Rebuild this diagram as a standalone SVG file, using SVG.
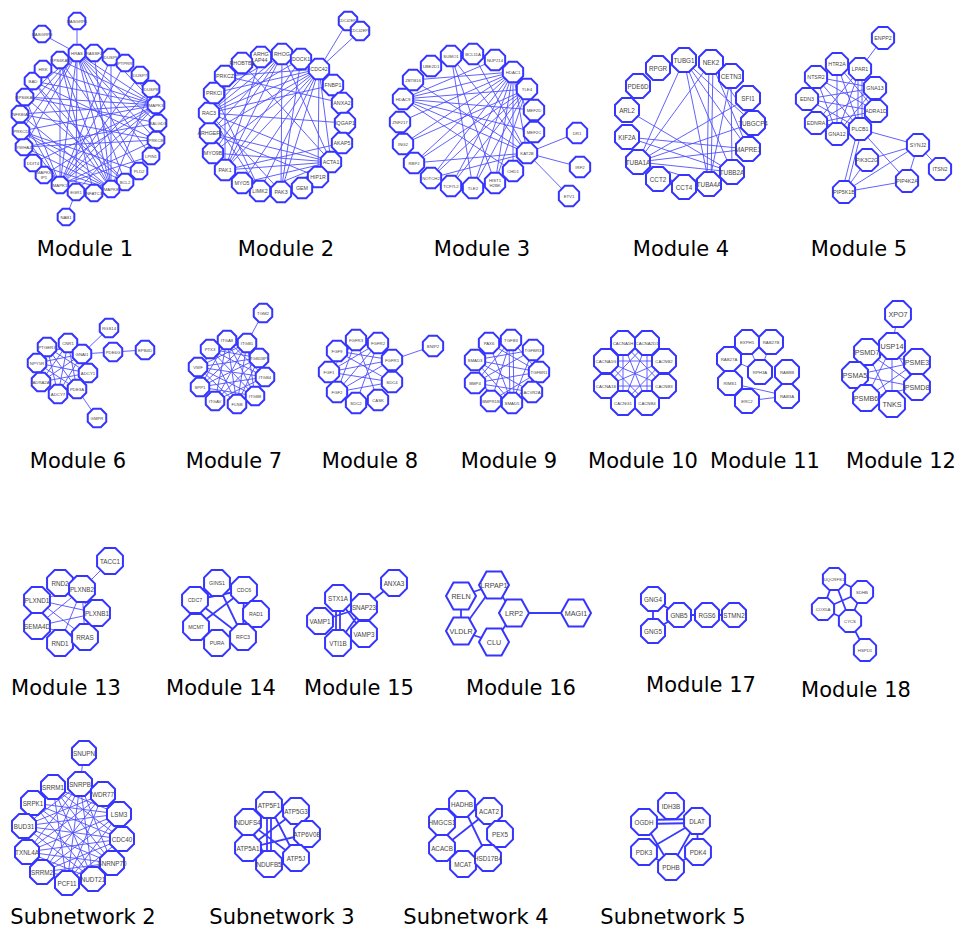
<svg xmlns="http://www.w3.org/2000/svg" xmlns:xlink="http://www.w3.org/1999/xlink" width="956" height="932" viewBox="0 0 956 932">
<style>
.o{fill:#fff;stroke:#3535ff;stroke-width:2}
.e{fill:none;stroke:#4f4fff;stroke-width:0.9}
.e2{fill:none;stroke:#3a3aff;stroke-width:1.8}
text.n,g.m text{font-family:"Liberation Sans",Arial,sans-serif;fill:#444;text-anchor:middle;dominant-baseline:central}
.s4{font-size:4.3px}.s5{font-size:5.3px}.s6{font-size:6.3px}.s7{font-size:7.2px}
.lbl{font-family:"DejaVu Sans",Verdana,sans-serif;font-size:21px;text-anchor:middle;fill:#000}
</style>
<defs>
<polygon id="o9" class="o" points="3.45,-8.32 8.32,-3.45 8.32,3.45 3.45,8.32 -3.45,8.32 -8.32,3.45 -8.32,-3.45 -3.45,-8.32"/>
<polygon id="o10" class="o" points="3.83,-9.24 9.24,-3.83 9.24,3.83 3.83,9.24 -3.83,9.24 -9.24,3.83 -9.24,-3.83 -3.83,-9.24"/>
<polygon id="o11" class="o" points="4.21,-10.16 10.16,-4.21 10.16,4.21 4.21,10.16 -4.21,10.16 -10.16,4.21 -10.16,-4.21 -4.21,-10.16"/>
<polygon id="o12" class="o" points="4.59,-11.09 11.09,-4.59 11.09,4.59 4.59,11.09 -4.59,11.09 -11.09,4.59 -11.09,-4.59 -4.59,-11.09"/>
<polygon id="o13" class="o" points="4.98,-12.01 12.01,-4.98 12.01,4.98 4.98,12.01 -4.98,12.01 -12.01,4.98 -12.01,-4.98 -4.98,-12.01"/>
<polygon id="o14" class="o" points="5.36,-12.94 12.94,-5.36 12.94,5.36 5.36,12.94 -5.36,12.94 -12.94,5.36 -12.94,-5.36 -5.36,-12.94"/>
<polygon id="h15" class="o" points="15,0 7.5,13.5 -7.5,13.5 -15,0 -7.5,-13.5 7.5,-13.5"/>
</defs>
<rect width="956" height="932" fill="#fff"/>

<g id="connectors">
<path class="e" d="M77 21L77 53M42 34L77 53M66 217L76 192M77 53L156 105M77 53L158 123M77 53L156 140M77 53L139 171M77 53L125 182M77 53L60 185M77 53L111 189M77 53L20 114M77 53L21 131M77 53L24 147M77 53L25 97M77 53L76 192M77 53L151 156M60 60L156 105M60 60L60 185M60 60L111 189M60 60L139 171M43 69L111 189M43 69L156 105M33 81L156 105M33 81L111 189M33 81L156 140M33 81L125 182M25 97L156 105M25 97L60 185M25 97L158 123M20 114L156 105M20 114L156 140M20 114L111 189M20 114L60 185M21 131L156 105M21 131L60 185M21 131L139 171M21 131L111 189M24 147L111 189M24 147L156 140M24 147L158 123M33 163L156 105M33 163L111 189M44 175L111 189M44 175L156 105M60 185L111 57M60 185L140 75M60 185L151 89M60 185L125 63M60 185L156 105M60 185L156 140M60 185L151 156M156 105L111 57M156 105L125 63M111 189L111 57M111 189L151 89M76 192L156 105M94 193L60 60M125 182L25 97M139 171L158 123M94 53L111 189M125 182L21 131"/>
<path class="e" d="M348 21L319 69M360 31L319 69M319 69L209 113M319 69L214 93M319 69L225 76M319 69L210 133M319 69L213 153M319 69L225 170M319 69L281 192M319 69L260 191M319 69L345 123M319 69L331 162M319 69L318 177M319 69L242 183M282 54L209 113M282 54L225 170M282 54L281 192M282 54L214 93M282 54L210 133M282 54L213 153M282 54L331 162M261 57L209 113M261 57L225 170M242 63L331 162M225 76L342 103M225 76L225 170M209 113L345 123M209 113L331 162M209 113L281 192M209 113L260 191M209 113L301 59M209 113L333 85M225 170L331 162M225 170L301 59M210 133L331 162M213 153L331 162M331 162L281 192M331 162L242 183M331 162L260 191M214 93L260 191M342 143L225 170M318 177L210 133M301 59L281 192"/>
<path class="e" d="M527 153L577 133M527 153L580 167M527 153L569 196M513 72L413 80M513 72L403 99M513 72L400 122M513 72L414 163M513 72L431 178M513 72L451 186M513 72L473 188M513 72L495 183M513 72L513 171M513 72L527 153M513 72L534 132M513 72L534 110M513 72L403 144M495 60L403 99M451 56L527 153M451 56L473 188M473 54L527 153M451 56L495 183M403 99L534 110M403 99L534 132M403 99L527 153M403 99L513 171M403 99L527 89M527 89L414 163M527 89L431 178M527 89L451 186M527 89L473 188M527 89L495 183M527 89L403 144M527 153L414 163M527 153L431 178M413 80L527 153"/>
<path class="e" d="M684 60L638 162M684 60L709 184M684 60L732 172M684 60L748 149M684 60L753 123M711 62L638 162M709 62L707 184M713 62L711 184M711 62L748 149M711 62L753 123M731 76L732 172M731 76L709 184M748 98L638 162M753 123L638 162M748 149L638 162M748 149L627 137M627 110L732 172M638 162L732 172M638 162L709 184M638 162L684 187M709 184L658 179M627 137L732 172"/>
<path class="e" d="M883 38L860 69M858 69L858 129M862 69L862 129M860 69L837 134M837 64L860 129M837 64L837 134M837 64L876 111M816 77L875 88M816 77L860 129M816 77L876 111M816 77L837 134M807 99L875 88M807 99L860 129M807 99L876 111M816 123L875 88M816 123L860 69M816 123L876 111M816 123L860 129M837 134L875 88M875 88L860 129M860 129L918 145M860 129L907 181M858 129L842 192M862 129L846 192M918 145L867 160M918 145L844 192M918 145L907 181M918 145L940 169M844 192L907 181M844 192L867 160"/>
<path class="e" d="M82 354L109 328M82 354L113 352M113 352L145 350M77 389L97 418M47 347L88 373M47 347L58 394M47 347L77 389M68 343L58 394M68 343L88 373M68 343L77 389M68 343L41 382M37 363L82 354M37 363L88 373M37 363L77 389M41 382L82 354M41 382L88 373M58 394L82 354M47 347L82 354M37 363L68 343M58 394L88 373"/>
<path class="e" d="M263 313L247 343M247 343L198 367M247 343L200 387M247 343L215 401M247 343L237 404M247 343L255 396M247 343L210 349M227 340L200 387M227 340L215 401M227 340L237 404M227 340L255 396M227 340L265 377M227 340L259 358M210 349L259 358M210 349L265 377M210 349L255 396M210 349L237 404M198 367L259 358M198 367L265 377M198 367L255 396M198 367L237 404M200 387L259 358M200 387L265 377M200 387L255 396M215 401L259 358M215 401L265 377M237 404L259 358M227 340L198 367"/>
<path class="e" d="M392 360L433 346M329 372L392 360M329 372L378 343M329 372L356 340M329 372L392 382M337 392L392 360M337 392L378 343M337 392L356 340M337 392L392 382M337 351L392 360M337 351L378 343M337 351L392 382M356 403L378 343M356 340L378 400"/>
<path class="e" d="M475 360L511 340M475 360L539 372M475 360L533 350M475 360L532 392M475 360L512 403M475 360L491 401M509 340L510 403M513 340L514 403M511 340L539 372M511 340L491 401M511 340L475 383M475 383L539 372M475 383L532 392M475 383L512 403M475 383L533 350M489 343L512 403M489 343L539 372M539 372L512 403M533 350L512 403M491 401L539 372"/>
<path class="e" d="M623 343L647 343M623 343L606 361M623 343L664 361M623 343L606 386M623 343L664 386M623 343L623 403M623 343L647 403M647 343L606 361M647 343L664 361M647 343L606 386M647 343L664 386M647 343L623 403M647 343L647 403M606 361L664 361M606 361L606 386M606 361L664 386M606 361L623 403M606 361L647 403M664 361L606 386M664 361L664 386M664 361L623 403M664 361L647 403M606 386L664 386M606 386L623 403M606 386L647 403M664 386L623 403M664 386L647 403M623 403L647 403"/>
<path class="e" d="M747 342L760 372M771 342L760 372M729 359L760 372M730 383L787 396M747 401L787 396"/>
<path class="e" d="M898 314L892 346M892 346L855 375M892 346L866 398M892 346L917 387M867 352L917 362M867 352L917 387M867 352L892 404M855 375L917 362M855 375L917 387M866 398L917 362M866 398L917 387M892 346L892 404"/>
<path class="e" d="M110 561L82 589M37 600L82 589M37 626L82 589M37 626L97 613M37 600L85 637M37 600L97 613M60 643L82 589M85 637L82 589M37 626L85 637M60 583L97 613"/>
<path class="e2" d="M195 600L243 637M196 627L244 590M244 590L243 637M217 583L243 637M195 600L244 590M193 600L194 627M197 600L198 627"/>
<path class="e2" d="M394 583L364 607M336 598L336 643M340 598L340 643M338 598L364 634M338 598L364 607M364 607L338 643M364 607L320 621"/>
<path class="e2" d="M461 596L494 585M461 596L461 631M494 585L461 631M514 613L576 613M514 613L494 642M461 631L494 642M494 585L514 613"/>
<path class="e2" d="M653 599L653 631M653 599L679 615M653 631L679 615M679 615L707 615M707 615L734 615"/>
<path class="e2" d="M834 579L862 592M834 579L850 621M834 579L823 609M862 592L823 609M862 592L850 621M823 609L850 621M850 621L865 650"/>
<path class="e" d="M84 753L80 784M80 784L27 852M80 784L42 872M80 784L67 883M80 784L93 879M80 784L112 863M80 784L24 826M53 787L122 839M53 787L112 863M53 787L93 879M53 787L119 814M53 787L67 883M103 794L24 826M103 794L27 852M103 794L42 872M103 794L67 883M33 803L119 814M33 803L122 839M33 803L112 863M33 803L93 879M119 814L24 826M119 814L27 852M119 814L42 872M119 814L67 883M24 826L122 839M24 826L112 863M24 826L93 879M122 839L27 852M122 839L42 872M122 839L67 883M27 852L112 863M27 852L93 879M112 863L42 872M42 872L93 879"/>
<path class="e2" d="M267 805L267 864M271 805L271 864M269 805L296 858M296 811L248 848M248 822L296 858M248 822L269 864M248 848L307 834"/>
<path class="e2" d="M462 804L488 858M489 811L442 848M500 834L488 858"/>
<path class="e2" d="M644 820L697 819M644 824L697 823M644 822L671 867M697 821L644 852M697 821L671 867M697 821L698 852M644 852L671 867M698 852L671 867"/>
</g>

<g id="module1" class="m s4">
<g id="m1-RASGRP1" transform="translate(77,21)"><use href="#o9"/><text>RASGRP1</text></g>
<g id="m1-RASGRP3" transform="translate(42,34)"><use href="#o9"/><text>RASGRP3</text></g>
<g id="m1-HRAS" transform="translate(77,53)"><use href="#o9"/><text>HRAS</text></g>
<g id="m1-RASSF2" transform="translate(94,53)"><use href="#o9"/><text>RASSF2</text></g>
<g id="m1-DUSP6" transform="translate(111,57)"><use href="#o9"/><text>DUSP6</text></g>
<g id="m1-PTPRR" transform="translate(125,63)"><use href="#o9"/><text>PTPRR</text></g>
<g id="m1-DUSP7" transform="translate(140,75)"><use href="#o9"/><text>DUSP7</text></g>
<g id="m1-DUSP8" transform="translate(151,89)"><use href="#o9"/><text>DUSP8</text></g>
<g id="m1-MAPK3" transform="translate(156,105)"><use href="#o9"/><text>MAPK3</text></g>
<g id="m1-RALGDS" transform="translate(158,123)"><use href="#o9"/><text>RALGDS</text></g>
<g id="m1-PRKCB" transform="translate(156,140)"><use href="#o9"/><text>PRKCB</text></g>
<g id="m1-LPIN1" transform="translate(151,156)"><use href="#o9"/><text>LPIN1</text></g>
<g id="m1-PLD2" transform="translate(139,171)"><use href="#o9"/><text>PLD2</text></g>
<g id="m1-BCL2" transform="translate(125,182)"><use href="#o9"/><text>BCL2</text></g>
<g id="m1-MAPK8" transform="translate(111,189)"><use href="#o9"/><text>MAPK8</text></g>
<g id="m1-NFATC3" transform="translate(94,193)"><use href="#o9"/><text>NFATC3</text></g>
<g id="m1-EGR1" transform="translate(76,192)"><use href="#o9"/><text>EGR1</text></g>
<g id="m1-MAPK1" transform="translate(60,185)"><use href="#o9"/><text>MAPK1</text></g>
<g id="m1-MAPK8IP1" transform="translate(44,175)"><use href="#o9"/><text y="-2.5">MAPK8</text><text y="2.5">IP1</text></g>
<g id="m1-DDIT4" transform="translate(33,163)"><use href="#o9"/><text>DDIT4</text></g>
<g id="m1-YWHAZ" transform="translate(24,147)"><use href="#o9"/><text>YWHAZ</text></g>
<g id="m1-PRKCD" transform="translate(21,131)"><use href="#o9"/><text>PRKCD</text></g>
<g id="m1-NFKBIA" transform="translate(20,114)"><use href="#o9"/><text>NFKBIA</text></g>
<g id="m1-RPS6KA1" transform="translate(25,97)"><use href="#o9"/><text>RPS6KA1</text></g>
<g id="m1-BAD" transform="translate(33,81)"><use href="#o9"/><text>BAD</text></g>
<g id="m1-HRK" transform="translate(43,69)"><use href="#o9"/><text>HRK</text></g>
<g id="m1-RPS6KA3" transform="translate(60,60)"><use href="#o9"/><text>RPS6KA3</text></g>
<g id="m1-NAB1" transform="translate(66,217)"><use href="#o9"/><text>NAB1</text></g>
</g>

<g id="module2" class="m s5">
<g id="m2-CDC42EP1" transform="translate(348,21)"><use href="#o10"/><text style="font-size:3.8px">CDC42EP1</text></g>
<g id="m2-CDC42EP3" transform="translate(360,31)"><use href="#o10"/><text style="font-size:3.8px">CDC42EP3</text></g>
<g id="m2-ARHGAP44" transform="translate(261,57)"><use href="#o11"/><text y="-3">ARHG</text><text y="3">AP44</text></g>
<g id="m2-RHOG" transform="translate(282,54)"><use href="#o11"/><text>RHOG</text></g>
<g id="m2-DOCK1" transform="translate(301,59)"><use href="#o11"/><text>DOCK1</text></g>
<g id="m2-CDC42" transform="translate(319,69)"><use href="#o11"/><text>CDC42</text></g>
<g id="m2-FNBP1" transform="translate(333,85)"><use href="#o11"/><text>FNBP1</text></g>
<g id="m2-ANXA2" transform="translate(342,103)"><use href="#o11"/><text>ANXA2</text></g>
<g id="m2-IQGAP1" transform="translate(345,123)"><use href="#o11"/><text>IQGAP1</text></g>
<g id="m2-AKAP5" transform="translate(342,143)"><use href="#o11"/><text>AKAP5</text></g>
<g id="m2-ACTA1" transform="translate(331,162)"><use href="#o11"/><text>ACTA1</text></g>
<g id="m2-HIP1R" transform="translate(318,177)"><use href="#o11"/><text>HIP1R</text></g>
<g id="m2-GEM" transform="translate(302,188)"><use href="#o11"/><text>GEM</text></g>
<g id="m2-PAK3" transform="translate(281,192)"><use href="#o11"/><text>PAK3</text></g>
<g id="m2-LIMK2" transform="translate(260,191)"><use href="#o11"/><text>LIMK2</text></g>
<g id="m2-MYO5" transform="translate(242,183)"><use href="#o11"/><text>MYO5</text></g>
<g id="m2-PAK1" transform="translate(225,170)"><use href="#o11"/><text>PAK1</text></g>
<g id="m2-MYO9B" transform="translate(213,153)"><use href="#o11"/><text>MYO9B</text></g>
<g id="m2-ARHGEF6" transform="translate(210,133)"><use href="#o11"/><text>ARHGEF6</text></g>
<g id="m2-RAC3" transform="translate(209,113)"><use href="#o11"/><text>RAC3</text></g>
<g id="m2-PRKCI" transform="translate(214,93)"><use href="#o11"/><text>PRKCI</text></g>
<g id="m2-PRKCZ" transform="translate(225,76)"><use href="#o11"/><text>PRKCZ</text></g>
<g id="m2-RHOBTB3" transform="translate(242,63)"><use href="#o11"/><text>RHOBTB3</text></g>
</g>

<g id="module3" class="m s4">
<g id="m3-SUMO1" transform="translate(451,56)"><use href="#o11"/><text>SUMO1</text></g>
<g id="m3-BCL11A" transform="translate(473,54)"><use href="#o11"/><text>BCL11A</text></g>
<g id="m3-NUP214" transform="translate(495,60)"><use href="#o11"/><text>NUP214</text></g>
<g id="m3-HDAC1" transform="translate(513,72)"><use href="#o11"/><text>HDAC1</text></g>
<g id="m3-TLE4" transform="translate(527,89)"><use href="#o11"/><text>TLE4</text></g>
<g id="m3-MEF2D" transform="translate(534,110)"><use href="#o11"/><text>MEF2D</text></g>
<g id="m3-MEF2C" transform="translate(534,132)"><use href="#o11"/><text>MEF2C</text></g>
<g id="m3-KAT2B" transform="translate(527,153)"><use href="#o11"/><text>KAT2B</text></g>
<g id="m3-CHD1" transform="translate(513,171)"><use href="#o11"/><text>CHD1</text></g>
<g id="m3-HIST1H2BK" transform="translate(495,183)"><use href="#o11"/><text y="-2.6">HIST1</text><text y="2.6">H2BK</text></g>
<g id="m3-TLE2" transform="translate(473,188)"><use href="#o11"/><text>TLE2</text></g>
<g id="m3-TCF7L2" transform="translate(451,186)"><use href="#o11"/><text>TCF7L2</text></g>
<g id="m3-NOTCH2" transform="translate(431,178)"><use href="#o11"/><text>NOTCH2</text></g>
<g id="m3-RBPJ" transform="translate(414,163)"><use href="#o11"/><text>RBPJ</text></g>
<g id="m3-ING2" transform="translate(403,144)"><use href="#o11"/><text>ING2</text></g>
<g id="m3-ZNF217" transform="translate(400,122)"><use href="#o11"/><text>ZNF217</text></g>
<g id="m3-HDAC9" transform="translate(403,99)"><use href="#o11"/><text>HDAC9</text></g>
<g id="m3-ZBTB16" transform="translate(413,80)"><use href="#o11"/><text>ZBTB16</text></g>
<g id="m3-UBE2D1" transform="translate(431,66)"><use href="#o11"/><text>UBE2D1</text></g>
<g id="m3-DR1" transform="translate(577,133)"><use href="#o11"/><text>DR1</text></g>
<g id="m3-IRF2" transform="translate(580,167)"><use href="#o11"/><text>IRF2</text></g>
<g id="m3-ETV1" transform="translate(569,196)"><use href="#o11"/><text>ETV1</text></g>
</g>

<g id="module4" class="m s6">
<g id="m4-TUBG1" transform="translate(684,60)"><use href="#o13"/><text>TUBG1</text></g>
<g id="m4-NEK2" transform="translate(711,62)"><use href="#o13"/><text>NEK2</text></g>
<g id="m4-CETN3" transform="translate(731,76)"><use href="#o13"/><text>CETN3</text></g>
<g id="m4-SFI1" transform="translate(748,98)"><use href="#o13"/><text>SFI1</text></g>
<g id="m4-TUBGCP4" transform="translate(753,123)"><use href="#o13"/><text>TUBGCP4</text></g>
<g id="m4-MAPRE1" transform="translate(748,149)"><use href="#o13"/><text>MAPRE1</text></g>
<g id="m4-TUBB2A" transform="translate(732,172)"><use href="#o13"/><text>TUBB2A</text></g>
<g id="m4-TUBA4A" transform="translate(709,184)"><use href="#o13"/><text>TUBA4A</text></g>
<g id="m4-CCT4" transform="translate(684,187)"><use href="#o13"/><text>CCT4</text></g>
<g id="m4-CCT2" transform="translate(658,179)"><use href="#o13"/><text>CCT2</text></g>
<g id="m4-TUBA1A" transform="translate(638,162)"><use href="#o13"/><text>TUBA1A</text></g>
<g id="m4-KIF2A" transform="translate(627,137)"><use href="#o13"/><text>KIF2A</text></g>
<g id="m4-ARL2" transform="translate(627,110)"><use href="#o13"/><text>ARL2</text></g>
<g id="m4-PDE6D" transform="translate(638,86)"><use href="#o13"/><text>PDE6D</text></g>
<g id="m4-RPGR" transform="translate(658,68)"><use href="#o13"/><text>RPGR</text></g>
</g>

<g id="module5" class="m s5">
<g id="m5-ENPP2" transform="translate(883,38)"><use href="#o12"/><text>ENPP2</text></g>
<g id="m5-HTR2A" transform="translate(837,64)"><use href="#o12"/><text>HTR2A</text></g>
<g id="m5-NTSR2" transform="translate(816,77)"><use href="#o12"/><text>NTSR2</text></g>
<g id="m5-EDN3" transform="translate(807,99)"><use href="#o12"/><text>EDN3</text></g>
<g id="m5-EDNRA" transform="translate(816,123)"><use href="#o12"/><text>EDNRA</text></g>
<g id="m5-GNA12" transform="translate(837,134)"><use href="#o12"/><text>GNA12</text></g>
<g id="m5-GNA13" transform="translate(875,88)"><use href="#o12"/><text>GNA13</text></g>
<g id="m5-ADRA1D" transform="translate(876,111)"><use href="#o12"/><text>ADRA1D</text></g>
<g id="m5-LPAR1" transform="translate(860,69)"><use href="#o12"/><text>LPAR1</text></g>
<g id="m5-PLCB1" transform="translate(860,129)"><use href="#o12"/><text>PLCB1</text></g>
<g id="m5-SYNJ2" transform="translate(918,145)"><use href="#o12"/><text>SYNJ2</text></g>
<g id="m5-PIK3C2G" transform="translate(867,160)"><use href="#o12"/><text>PIK3C2G</text></g>
<g id="m5-ITSN2" transform="translate(940,169)"><use href="#o12"/><text>ITSN2</text></g>
<g id="m5-PIP4K2A" transform="translate(907,181)"><use href="#o12"/><text>PIP4K2A</text></g>
<g id="m5-PIP5K1B" transform="translate(844,192)"><use href="#o12"/><text>PIP5K1B</text></g>
</g>

<g id="module6" class="m s4">
<g id="m6-RGS14" transform="translate(109,328)"><use href="#o10"/><text>RGS14</text></g>
<g id="m6-CNR1" transform="translate(68,343)"><use href="#o10"/><text>CNR1</text></g>
<g id="m6-PTGER3" transform="translate(47,347)"><use href="#o10"/><text>PTGER3</text></g>
<g id="m6-GNAI1" transform="translate(82,354)"><use href="#o10"/><text>GNAI1</text></g>
<g id="m6-PDE6G" transform="translate(113,352)"><use href="#o10"/><text>PDE6G</text></g>
<g id="m6-SPEBD" transform="translate(145,350)"><use href="#o10"/><text>EPB4D</text></g>
<g id="m6-NPY5R" transform="translate(37,363)"><use href="#o10"/><text>NPY5R</text></g>
<g id="m6-ADCY1" transform="translate(88,373)"><use href="#o10"/><text>ADCY1</text></g>
<g id="m6-ADRA2A" transform="translate(41,382)"><use href="#o10"/><text>ADRA2A</text></g>
<g id="m6-PDE3A" transform="translate(77,389)"><use href="#o10"/><text>PDE3A</text></g>
<g id="m6-ADCY7" transform="translate(58,394)"><use href="#o10"/><text>ADCY7</text></g>
<g id="m6-GMPR" transform="translate(97,418)"><use href="#o10"/><text>GMPR</text></g>
</g>

<g id="module7" class="m s4">
<g id="m7-TGM2" transform="translate(263,313)"><use href="#o10"/><text>TGM2</text></g>
<g id="m7-ITGA8" transform="translate(227,340)"><use href="#o10"/><text>ITGA8</text></g>
<g id="m7-ITGB1" transform="translate(247,343)"><use href="#o10"/><text>ITGB1</text></g>
<g id="m7-PTX3" transform="translate(210,349)"><use href="#o10"/><text>PTX3</text></g>
<g id="m7-ITGB1BP1" transform="translate(259,358)"><use href="#o10"/><text>ITGB1BP1</text></g>
<g id="m7-VWF" transform="translate(198,367)"><use href="#o10"/><text>VWF</text></g>
<g id="m7-ITGB4" transform="translate(265,377)"><use href="#o10"/><text>ITGB4</text></g>
<g id="m7-SPP1" transform="translate(200,387)"><use href="#o10"/><text>SPP1</text></g>
<g id="m7-ITGB8" transform="translate(255,396)"><use href="#o10"/><text>ITGB8</text></g>
<g id="m7-ITGAV" transform="translate(215,401)"><use href="#o10"/><text>ITGAV</text></g>
<g id="m7-FLNB" transform="translate(237,404)"><use href="#o10"/><text>FLNB</text></g>
</g>

<g id="module8" class="m s4">
<g id="m8-FGFR3" transform="translate(356,340)"><use href="#o11"/><text>FGFR3</text></g>
<g id="m8-FGFR2" transform="translate(378,343)"><use href="#o11"/><text>FGFR2</text></g>
<g id="m8-FGF9" transform="translate(337,351)"><use href="#o11"/><text>FGF9</text></g>
<g id="m8-BNIP2" transform="translate(433,346)"><use href="#o11"/><text>BNIP2</text></g>
<g id="m8-FGFR1" transform="translate(392,360)"><use href="#o11"/><text>FGFR1</text></g>
<g id="m8-FGF1" transform="translate(329,372)"><use href="#o11"/><text>FGF1</text></g>
<g id="m8-SDC4" transform="translate(392,382)"><use href="#o11"/><text>SDC4</text></g>
<g id="m8-FGF2" transform="translate(337,392)"><use href="#o11"/><text>FGF2</text></g>
<g id="m8-CASK" transform="translate(378,400)"><use href="#o11"/><text>CASK</text></g>
<g id="m8-SDC2" transform="translate(356,403)"><use href="#o11"/><text>SDC2</text></g>
</g>

<g id="module9" class="m s4">
<g id="m9-PAX6" transform="translate(489,343)"><use href="#o11"/><text>PAX6</text></g>
<g id="m9-TGFB3" transform="translate(511,340)"><use href="#o11"/><text>TGFB3</text></g>
<g id="m9-TGFBR3" transform="translate(533,350)"><use href="#o11"/><text>TGFBR3</text></g>
<g id="m9-SMAD3" transform="translate(475,360)"><use href="#o11"/><text>SMAD3</text></g>
<g id="m9-TGFBR1" transform="translate(539,372)"><use href="#o11"/><text>TGFBR1</text></g>
<g id="m9-BMP4" transform="translate(475,383)"><use href="#o11"/><text>BMP4</text></g>
<g id="m9-ACVR2A" transform="translate(532,392)"><use href="#o11"/><text>ACVR2A</text></g>
<g id="m9-BMPR1B" transform="translate(491,401)"><use href="#o11"/><text>BMPR1B</text></g>
<g id="m9-SMAD5" transform="translate(512,403)"><use href="#o11"/><text>SMAD5</text></g>
</g>

<g id="module10" class="m s4">
<g id="m10-CACNA1H" transform="translate(623,343)"><use href="#o13"/><text>CACNA1H</text></g>
<g id="m10-CACNA2D1" transform="translate(647,343)"><use href="#o13"/><text>CACNA2D1</text></g>
<g id="m10-CACNA1G" transform="translate(606,361)"><use href="#o13"/><text>CACNA1G</text></g>
<g id="m10-CACNB2" transform="translate(664,361)"><use href="#o13"/><text>CACNB2</text></g>
<g id="m10-CACNA1S" transform="translate(606,386)"><use href="#o13"/><text>CACNA1S</text></g>
<g id="m10-CACNB3" transform="translate(664,386)"><use href="#o13"/><text>CACNB3</text></g>
<g id="m10-CACNG1" transform="translate(623,403)"><use href="#o13"/><text>CACNG1</text></g>
<g id="m10-CACNB4" transform="translate(647,403)"><use href="#o13"/><text>CACNB4</text></g>
</g>

<g id="module11" class="m s4">
<g id="m11-EXPH5" transform="translate(747,342)"><use href="#o13"/><text>EXPH5</text></g>
<g id="m11-RAB27B" transform="translate(771,342)"><use href="#o13"/><text>RAB27B</text></g>
<g id="m11-RAB27A" transform="translate(729,359)"><use href="#o13"/><text>RAB27A</text></g>
<g id="m11-RPH3A" transform="translate(760,372)"><use href="#o13"/><text>RPH3A</text></g>
<g id="m11-RAB8B" transform="translate(787,372)"><use href="#o13"/><text>RAB8B</text></g>
<g id="m11-RIMS1" transform="translate(730,383)"><use href="#o13"/><text>RIMS1</text></g>
<g id="m11-RAB3A" transform="translate(787,396)"><use href="#o13"/><text>RAB3A</text></g>
<g id="m11-ERC2" transform="translate(747,401)"><use href="#o13"/><text>ERC2</text></g>
</g>

<g id="module12" class="m s7">
<g id="m12-XPO7" transform="translate(898,314)"><use href="#o14"/><text>XPO7</text></g>
<g id="m12-PSMD7" transform="translate(867,352)"><use href="#o14"/><text>PSMD7</text></g>
<g id="m12-USP14" transform="translate(892,346)"><use href="#o14"/><text>USP14</text></g>
<g id="m12-PSME3" transform="translate(917,362)"><use href="#o14"/><text>PSME3</text></g>
<g id="m12-PSMA5" transform="translate(855,375)"><use href="#o14"/><text>PSMA5</text></g>
<g id="m12-PSMD8" transform="translate(917,387)"><use href="#o14"/><text>PSMD8</text></g>
<g id="m12-TNKS" transform="translate(892,404)"><use href="#o14"/><text>TNKS</text></g>
<g id="m12-PSMB6" transform="translate(866,398)"><use href="#o14"/><text>PSMB6</text></g>
</g>

<g id="module13" class="m s6">
<g id="m13-TACC1" transform="translate(110,561)"><use href="#o14"/><text>TACC1</text></g>
<g id="m13-RND2" transform="translate(60,583)"><use href="#o14"/><text>RND2</text></g>
<g id="m13-PLXND1" transform="translate(37,600)"><use href="#o14"/><text>PLXND1</text></g>
<g id="m13-SEMA4D" transform="translate(37,626)"><use href="#o14"/><text>SEMA4D</text></g>
<g id="m13-RND1" transform="translate(60,643)"><use href="#o14"/><text>RND1</text></g>
<g id="m13-RRAS" transform="translate(85,637)"><use href="#o14"/><text>RRAS</text></g>
<g id="m13-PLXNB1" transform="translate(97,613)"><use href="#o14"/><text>PLXNB1</text></g>
<g id="m13-PLXNB2" transform="translate(82,589)"><use href="#o14"/><text>PLXNB2</text></g>
</g>

<g id="module14" class="m s5">
<g id="m14-GINS1" transform="translate(217,583)"><use href="#o14"/><text>GINS1</text></g>
<g id="m14-CDC6" transform="translate(244,590)"><use href="#o14"/><text>CDC6</text></g>
<g id="m14-CDC7" transform="translate(195,600)"><use href="#o14"/><text>CDC7</text></g>
<g id="m14-RAD1" transform="translate(256,614)"><use href="#o14"/><text>RAD1</text></g>
<g id="m14-MCM7" transform="translate(196,627)"><use href="#o14"/><text>MCM7</text></g>
<g id="m14-PURA" transform="translate(217,643)"><use href="#o14"/><text>PURA</text></g>
<g id="m14-RFC3" transform="translate(243,637)"><use href="#o14"/><text>RFC3</text></g>
</g>

<g id="module15" class="m s6">
<g id="m15-ANXA3" transform="translate(394,583)"><use href="#o14"/><text>ANXA3</text></g>
<g id="m15-STX1A" transform="translate(338,598)"><use href="#o14"/><text>STX1A</text></g>
<g id="m15-VAMP1" transform="translate(320,621)"><use href="#o14"/><text>VAMP1</text></g>
<g id="m15-VTI1B" transform="translate(338,643)"><use href="#o14"/><text>VTI1B</text></g>
<g id="m15-VAMP3" transform="translate(364,634)"><use href="#o14"/><text>VAMP3</text></g>
<g id="m15-SNAP23" transform="translate(364,607)"><use href="#o14"/><text>SNAP23</text></g>
</g>

<g id="module16" class="m s7">
<g id="m16-RELN" transform="translate(461,596)"><use href="#h15"/><text>RELN</text></g>
<g id="m16-LRPAP1" transform="translate(494,585)"><use href="#h15"/><text>LRPAP1</text></g>
<g id="m16-LRP2" transform="translate(514,613)"><use href="#h15"/><text>LRP2</text></g>
<g id="m16-MAGI1" transform="translate(576,613)"><use href="#h15"/><text>MAGI1</text></g>
<g id="m16-VLDLR" transform="translate(461,631)"><use href="#h15"/><text>VLDLR</text></g>
<g id="m16-CLU" transform="translate(494,642)"><use href="#h15"/><text>CLU</text></g>
</g>

<g id="module17" class="m s6">
<g id="m17-GNG4" transform="translate(653,599)"><use href="#o13"/><text>GNG4</text></g>
<g id="m17-GNG5" transform="translate(653,631)"><use href="#o13"/><text>GNG5</text></g>
<g id="m17-GNB5" transform="translate(679,615)"><use href="#o13"/><text>GNB5</text></g>
<g id="m17-RGS6" transform="translate(707,615)"><use href="#o13"/><text>RGS6</text></g>
<g id="m17-STMN2" transform="translate(734,615)"><use href="#o13"/><text>STMN2</text></g>
</g>

<g id="module18" class="m s4">
<g id="m18-UQCRFS1" transform="translate(834,579)"><use href="#o12"/><text>UQCRFS1</text></g>
<g id="m18-SDHB" transform="translate(862,592)"><use href="#o12"/><text>SDHB</text></g>
<g id="m18-COX5A" transform="translate(823,609)"><use href="#o12"/><text>COX5A</text></g>
<g id="m18-CYCS" transform="translate(850,621)"><use href="#o12"/><text>CYCS</text></g>
<g id="m18-HSPD1" transform="translate(865,650)"><use href="#o12"/><text>HSPD1</text></g>
</g>

<g id="subnetwork2" class="m s6">
<g id="s2-SNUPN" transform="translate(84,753)"><use href="#o13"/><text>SNUPN</text></g>
<g id="s2-SRRM1" transform="translate(53,787)"><use href="#o13"/><text>SRRM1</text></g>
<g id="s2-SNRPB" transform="translate(80,784)"><use href="#o13"/><text>SNRPB</text></g>
<g id="s2-WDR77" transform="translate(103,794)"><use href="#o13"/><text>WDR77</text></g>
<g id="s2-SRPK1" transform="translate(33,803)"><use href="#o13"/><text>SRPK1</text></g>
<g id="s2-LSM3" transform="translate(119,814)"><use href="#o13"/><text>LSM3</text></g>
<g id="s2-BUD31" transform="translate(24,826)"><use href="#o13"/><text>BUD31</text></g>
<g id="s2-CDC40" transform="translate(122,839)"><use href="#o13"/><text>CDC40</text></g>
<g id="s2-TXNL4A" transform="translate(27,852)"><use href="#o13"/><text>TXNL4A</text></g>
<g id="s2-SNRNP70" transform="translate(112,863)"><use href="#o13"/><text>SNRNP70</text></g>
<g id="s2-SRRM2" transform="translate(42,872)"><use href="#o13"/><text>SRRM2</text></g>
<g id="s2-PCF11" transform="translate(67,883)"><use href="#o13"/><text>PCF11</text></g>
<g id="s2-NUDT21" transform="translate(93,879)"><use href="#o13"/><text>NUDT21</text></g>
</g>

<g id="subnetwork3" class="m s6">
<g id="s3-ATP5F1" transform="translate(269,805)"><use href="#o14"/><text>ATP5F1</text></g>
<g id="s3-ATP5G3" transform="translate(296,811)"><use href="#o14"/><text>ATP5G3</text></g>
<g id="s3-NDUFS4" transform="translate(248,822)"><use href="#o14"/><text>NDUFS4</text></g>
<g id="s3-ATP6V0B" transform="translate(307,834)"><use href="#o14"/><text>ATP6V0B</text></g>
<g id="s3-ATP5A1" transform="translate(248,848)"><use href="#o14"/><text>ATP5A1</text></g>
<g id="s3-ATP5J" transform="translate(296,858)"><use href="#o14"/><text>ATP5J</text></g>
<g id="s3-NDUFB5" transform="translate(269,864)"><use href="#o14"/><text>NDUFB5</text></g>
</g>

<g id="subnetwork4" class="m s6">
<g id="s4-HADHB" transform="translate(462,804)"><use href="#o14"/><text>HADHB</text></g>
<g id="s4-ACAT2" transform="translate(489,811)"><use href="#o14"/><text>ACAT2</text></g>
<g id="s4-HMGCS1" transform="translate(442,822)"><use href="#o14"/><text>HMGCS1</text></g>
<g id="s4-PEX5" transform="translate(500,834)"><use href="#o14"/><text>PEX5</text></g>
<g id="s4-ACACB" transform="translate(442,848)"><use href="#o14"/><text>ACACB</text></g>
<g id="s4-MCAT" transform="translate(463,864)"><use href="#o14"/><text>MCAT</text></g>
<g id="s4-HSD17B4" transform="translate(488,858)"><use href="#o14"/><text>HSD17B4</text></g>
</g>

<g id="subnetwork5" class="m s6">
<g id="s5-IDH3B" transform="translate(671,806)"><use href="#o14"/><text>IDH3B</text></g>
<g id="s5-OGDH" transform="translate(644,822)"><use href="#o14"/><text>OGDH</text></g>
<g id="s5-DLAT" transform="translate(697,821)"><use href="#o14"/><text>DLAT</text></g>
<g id="s5-PDK3" transform="translate(644,852)"><use href="#o14"/><text>PDK3</text></g>
<g id="s5-PDK4" transform="translate(698,852)"><use href="#o14"/><text>PDK4</text></g>
<g id="s5-PDHB" transform="translate(671,867)"><use href="#o14"/><text>PDHB</text></g>
</g>

<g id="labels">
<text class="lbl" x="85" y="256">Module 1</text>
<text class="lbl" x="286" y="256">Module 2</text>
<text class="lbl" x="482" y="256">Module 3</text>
<text class="lbl" x="681" y="256">Module 4</text>
<text class="lbl" x="859" y="256">Module 5</text>
<text class="lbl" x="78" y="468">Module 6</text>
<text class="lbl" x="234" y="468">Module 7</text>
<text class="lbl" x="370" y="468">Module 8</text>
<text class="lbl" x="509" y="468">Module 9</text>
<text class="lbl" x="643" y="468">Module 10</text>
<text class="lbl" x="765" y="468">Module 11</text>
<text class="lbl" x="901" y="468">Module 12</text>
<text class="lbl" x="66" y="695">Module 13</text>
<text class="lbl" x="221" y="695">Module 14</text>
<text class="lbl" x="359" y="695">Module 15</text>
<text class="lbl" x="521" y="695">Module 16</text>
<text class="lbl" x="701" y="692">Module 17</text>
<text class="lbl" x="856" y="697">Module 18</text>
<text class="lbl" x="83" y="924">Subnetwork 2</text>
<text class="lbl" x="282" y="924">Subnetwork 3</text>
<text class="lbl" x="476" y="924">Subnetwork 4</text>
<text class="lbl" x="673" y="924">Subnetwork 5</text>
</g>
</svg>
